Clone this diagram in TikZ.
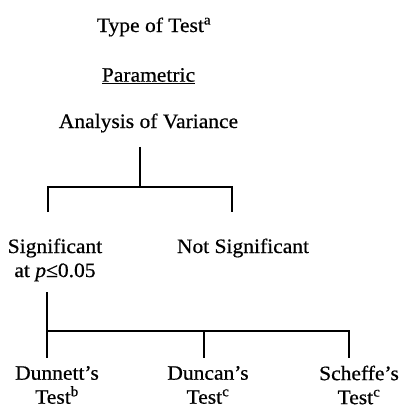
\documentclass[tikz,border=0pt]{standalone}
\usepackage{fontspec}
\setmainfont[FakeStretch=1.05,FakeBold=0.6]{Liberation Serif}
\begin{document}
\begin{tikzpicture}[x=1pt,y=-1pt,
  label/.style={inner sep=0pt,font=\fontsize{20.5}{24}\selectfont,align=center},
  tree/.style={line width=1.3pt,line cap=butt}]
\useasboundingbox (0,0) rectangle (401,411);
% heading
\node[label] (type) at (154,27) {Type of Test\textsuperscript{a}};
\node[label] (param) at (148.5,76) {\underline{Parametric}};
\node[label] (anova) at (148.5,123) {Analysis of Variance};
% first split
\node[label] (sig) at (55,260) {Significant\\at \textit{p}≤0.05};
\node[label] (nsig) at (243,248) {Not Significant};
% post-hoc tests
\node[label] (dun) at (57,385) {Dunnett's\\Test\textsuperscript{b}};
\node[label] (dnc) at (208,385) {Duncan's\\Test\textsuperscript{c}};
\node[label] (sch) at (359,385) {Scheffe's\\Test\textsuperscript{c}};
% junction points of the tree
\coordinate (a0) at (140,147);
\coordinate (a1) at (140,187);
\coordinate (l1) at (48,187);
\coordinate (r1) at (232,187);
\coordinate (l2) at (48,212);
\coordinate (r2) at (232,212);
\coordinate (s0) at (47,292);
\coordinate (s1) at (47,331);
\coordinate (s2) at (47,358);
\coordinate (m1) at (204,331);
\coordinate (m2) at (204,358);
\coordinate (e1) at (349,331);
\coordinate (e2) at (349,358);
% connectors
\draw[tree] (a0) -- (a1);
\draw[tree] (l2) -- (l1) -- (r1) -- (r2);
\draw[tree] (s0) -- (s2);
\draw[tree] (s1) -- (e1) -- (e2);
\draw[tree] (m1) -- (m2);
\end{tikzpicture}
\end{document}
